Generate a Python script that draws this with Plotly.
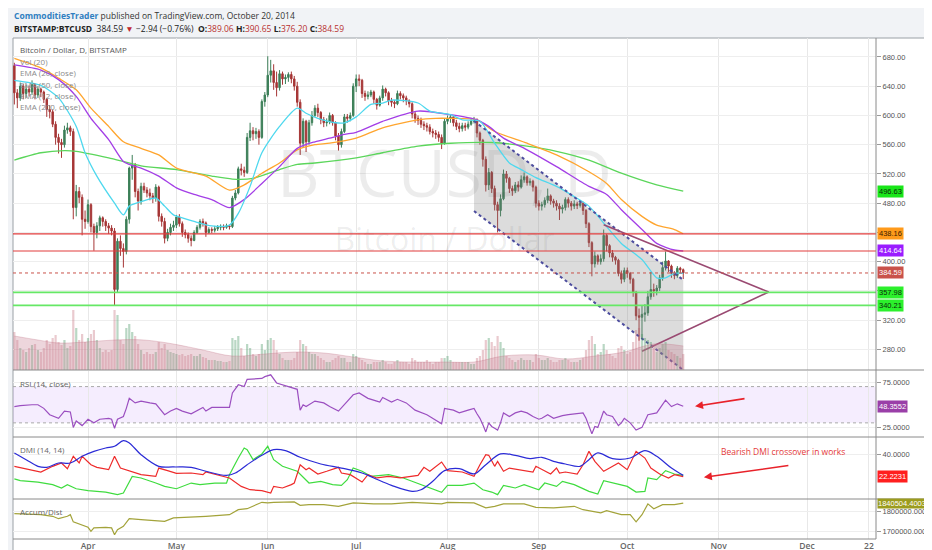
import plotly.graph_objects as go
import pandas as pd

# ---------------- DATA ----------------
first_open = 668.0
close_mar = [631,624,640,630,636,632,642,628,636,632,622,608,605,588,570,563,560,580,583,578,474,496,488,458,455]
high_mar  = [672,636,645,643,642,641,648,644,640,638,634,624,614,608,592,575,568,586,590,586,582,505,502,492,470]
low_mar   = [615,610,620,622,624,626,628,622,624,625,617,598,596,584,560,548,542,556,575,572,458,462,480,436,445]
close_apr = [478,448,440,449,460,455,449,446,442,362,428,418,414,458,528,532,496,483,503,498,494,490,487,502,462,455,432,440,447,450]
high_apr  = [485,480,452,454,463,462,458,453,450,446,432,436,425,462,530,546,535,500,508,508,502,500,494,506,504,466,460,445,452,456]
low_apr   = [452,440,415,432,442,448,442,438,436,340,358,408,392,410,452,512,488,470,478,494,488,484,480,482,455,448,425,428,436,442]
close_may = [461,452,440,437,432,429,440,447,455,453,440,444,443,445,447,448,447,449,448,487,494,527,525,522,570,579,575,578,570,619,628]
high_may  = [464,465,455,444,440,436,443,450,458,459,455,447,447,449,450,451,451,452,451,490,498,530,534,530,576,590,584,583,581,622,632]
low_may   = [446,448,434,432,426,421,428,438,444,448,434,438,439,440,442,443,443,445,444,446,484,492,518,516,520,565,566,568,560,568,612]
close_jun = [655,661,645,638,657,650,652,656,650,640,618,562,592,564,590,600,610,604,594,590,591,600,590,572,560,578,598,596,600,640]
high_jun  = [681,676,670,660,662,660,656,659,660,654,646,622,596,594,594,606,614,616,606,598,596,604,602,592,576,582,602,602,604,644]
low_jun   = [625,645,635,626,634,642,643,646,644,634,612,546,556,550,560,586,598,598,588,584,585,588,586,566,552,556,576,590,592,598]
close_jul = [650,648,630,626,628,632,622,614,624,636,631,620,618,616,630,627,624,620,616,602,596,593,588,586,584,578,576,574,570,562,592]
high_jul  = [656,656,650,634,633,635,634,624,627,641,638,633,624,621,634,633,630,627,622,618,605,600,597,592,590,588,582,580,578,574,596]
low_jul   = [632,640,624,620,622,625,616,608,612,620,626,614,612,610,614,622,618,614,611,596,590,587,583,580,578,574,570,568,564,554,560]
close_aug = [596,598,590,585,582,586,584,588,592,594,576,566,540,505,522,500,478,470,486,520,514,500,497,505,502,512,516,508,510,502,480]
high_aug  = [600,602,600,594,590,590,590,592,596,598,596,578,568,544,528,524,504,482,492,526,524,516,504,509,510,518,522,518,514,512,504]
low_aug   = [588,590,585,580,577,578,579,581,586,589,570,560,530,496,498,494,470,440,462,484,508,494,490,494,496,500,508,504,504,496,474]
close_sep = [476,478,484,490,483,480,476,472,474,485,480,476,479,477,480,470,452,426,397,408,400,404,436,422,412,406,402,384,376,388]
high_sep  = [484,482,488,500,492,486,484,480,478,488,488,483,484,482,484,482,472,454,428,414,410,410,444,438,424,416,408,404,388,392]
low_sep   = [470,470,474,480,478,474,470,457,466,470,474,470,472,472,474,464,446,420,380,392,396,396,400,414,406,400,396,380,370,372]
close_oct = [384,376,358,326,324,328,330,352,362,360,364,378,392,401,394,384,381,391,389.06,384.59]
high_oct  = [392,386,378,360,336,340,342,360,386,370,368,382,400,414,402,396,387,394,393,390.65]
low_oct   = [378,370,352,320,292,296,318,326,348,352,354,360,374,388,386,378,376,378,384,376.20]

vol_mar = [38,30,22,20,18,22,25,26,20,18,22,30,26,32,35,28,25,30,22,24,60,42,30,36,28]
vol_apr = [32,36,40,30,22,18,20,18,20,60,55,30,26,42,46,38,34,26,20,16,18,16,16,18,28,22,26,20,18,17]
vol_may = [16,15,16,14,15,16,14,14,16,13,12,10,10,10,9,9,8,8,9,32,30,34,22,14,26,22,16,14,16,26,20]
vol_jun = [30,32,30,20,16,12,10,10,10,12,18,30,26,24,18,16,16,14,12,10,8,8,10,12,14,12,12,8,8,16]
vol_jul = [14,12,10,8,6,6,8,8,8,10,8,6,6,8,10,8,8,8,6,12,10,8,8,8,10,8,6,8,8,12,12]
vol_aug = [14,10,8,8,8,8,8,8,6,6,12,14,20,30,32,28,24,34,28,22,14,12,10,8,10,12,10,10,10,8,16]
vol_sep = [12,10,10,12,10,8,8,10,10,12,10,8,8,8,10,12,20,30,34,26,16,18,26,20,16,14,12,22,24,20]
vol_oct = [16,18,28,40,42,36,32,30,28,22,18,22,26,28,20,18,16,14,12,16]

vol_ma = [("2014-03-07",34),("2014-03-15",30),("2014-03-22",27),("2014-03-31",28),("2014-04-10",30),
          ("2014-04-20",30),("2014-04-30",26),("2014-05-10",20),("2014-05-20",14),("2014-05-31",16),
          ("2014-06-10",18),("2014-06-20",17),("2014-06-30",13),("2014-07-10",9),("2014-07-20",8),
          ("2014-07-31",8),("2014-08-10",8),("2014-08-20",14),("2014-08-31",15),("2014-09-10",11),
          ("2014-09-20",14),("2014-09-30",18),("2014-10-10",26),("2014-10-20",24)]

ema20 = [("2014-03-07",648),("2014-03-16",641),("2014-03-22",624),("2014-03-28",585),("2014-03-31",549),
         ("2014-04-04",517),("2014-04-10",480),("2014-04-13",464),("2014-04-15",476),("2014-04-19",482),
         ("2014-04-24",487),("2014-04-27",476),("2014-04-30",464),("2014-05-03",460),("2014-05-07",455),
         ("2014-05-13",449),("2014-05-19",450),("2014-05-22",466),("2014-05-26",503),("2014-05-30",549),
         ("2014-06-05",585),("2014-06-11",610),("2014-06-14",603),("2014-06-18",596),("2014-06-24",590),
         ("2014-06-27",590),("2014-07-01",598),("2014-07-06",615),("2014-07-10",617),("2014-07-13",621),
         ("2014-07-22",617),("2014-07-26",606),("2014-08-02",601),("2014-08-06",594),("2014-08-12",592),
         ("2014-08-17",562),("2014-08-22",535),("2014-08-26",526),("2014-08-31",515),("2014-09-07",503),
         ("2014-09-13",489),("2014-09-18",476),("2014-09-24",448),("2014-09-29",425),("2014-10-06",403),
         ("2014-10-11",378),("2014-10-14",378),("2014-10-17",384),("2014-10-20",384)]
ema50 = [("2014-03-07",669),("2014-03-16",662),("2014-03-22",649),("2014-03-28",626),("2014-04-02",596),
         ("2014-04-08",567),("2014-04-13",537),("2014-04-15",533),("2014-04-19",528),("2014-04-25",517),
         ("2014-05-01",501),("2014-05-07",492),("2014-05-13",485),("2014-05-19",474),("2014-05-24",485),
         ("2014-05-30",507),("2014-06-05",530),("2014-06-11",555),("2014-06-17",564),("2014-06-22",569),
         ("2014-06-27",574),("2014-07-01",577),("2014-07-10",592),("2014-07-22",606),("2014-08-02",601),
         ("2014-08-11",594),("2014-08-15",585),("2014-08-20",569),("2014-08-28",553),("2014-09-07",530),
         ("2014-09-18",503),("2014-09-24",492),("2014-09-29",471),("2014-10-06",444),("2014-10-11",425),
         ("2014-10-17",416),("2014-10-20",414.64)]
ema100 = [("2014-03-07",678),("2014-03-16",665),("2014-03-22",651),("2014-03-28",635),("2014-04-02",610),
          ("2014-04-08",585),("2014-04-13",564),("2014-04-19",555),("2014-04-25",546),("2014-05-01",528),
          ("2014-05-11",517),("2014-05-19",498),("2014-05-24",505),("2014-05-30",521),("2014-06-05",535),
          ("2014-06-11",553),("2014-06-17",560),("2014-06-22",562),("2014-07-01",569),("2014-07-10",583),
          ("2014-07-22",594),("2014-07-28",596),("2014-08-02",596),("2014-08-11",594),("2014-08-17",578),
          ("2014-08-28",562),("2014-09-07",546),("2014-09-18",523),("2014-09-24",507),("2014-09-29",485),
          ("2014-10-06",462),("2014-10-11",450),("2014-10-17",444),("2014-10-20",438.16)]
ema200 = [("2014-03-07",539),("2014-03-16",549),("2014-03-24",552),("2014-03-28",551),("2014-04-08",542),
          ("2014-04-19",531),("2014-05-01",526),("2014-05-13",517),("2014-05-20",513),("2014-05-27",514),
          ("2014-06-05",526),("2014-06-11",533),("2014-06-17",535),("2014-07-01",542),("2014-07-10",549),
          ("2014-07-22",558),("2014-08-02",562),("2014-08-16",563),("2014-08-28",558),("2014-09-07",551),
          ("2014-09-18",539),("2014-09-29",521),("2014-10-11",505),("2014-10-20",496.63)]

rsi = [("2014-03-07",48),("2014-03-09",49),("2014-03-13",50),("2014-03-15",50),("2014-03-17",46),("2014-03-19",39),
       ("2014-03-22",35),("2014-03-24",43),("2014-03-26",42),("2014-03-27",25),("2014-03-28",32),("2014-03-30",27),
       ("2014-04-01",34),("2014-04-03",30),("2014-04-05",34),("2014-04-08",35),("2014-04-09",34),("2014-04-10",24),
       ("2014-04-11",34),("2014-04-13",37),("2014-04-14",46),("2014-04-15",57),("2014-04-17",52),("2014-04-19",54),
       ("2014-04-22",52),("2014-04-24",51),("2014-04-27",39),("2014-04-29",43),("2014-05-01",46),("2014-05-03",43),
       ("2014-05-06",40),("2014-05-09",45),("2014-05-10",47),("2014-05-11",43),("2014-05-13",47),("2014-05-19",47),
       ("2014-05-20",63),("2014-05-22",72),("2014-05-24",70),("2014-05-25",78),("2014-05-28",79),("2014-05-30",79),
       ("2014-05-31",81),("2014-06-02",83),("2014-06-04",74),("2014-06-06",72),("2014-06-08",70),("2014-06-11",67),
       ("2014-06-12",44),("2014-06-13",50),("2014-06-14",48),("2014-06-17",54),("2014-06-20",52),("2014-06-22",48),
       ("2014-06-25",43),("2014-06-27",50),("2014-06-30",61),("2014-07-02",63),("2014-07-05",57),("2014-07-08",54),
       ("2014-07-09",53),("2014-07-10",58),("2014-07-13",53),("2014-07-15",56),("2014-07-18",52),("2014-07-21",44),
       ("2014-07-25",39),("2014-07-30",29),("2014-07-31",46),("2014-08-03",44),("2014-08-05",41),("2014-08-08",44),
       ("2014-08-10",46),("2014-08-11",40),("2014-08-12",35),("2014-08-13",28),("2014-08-14",20),("2014-08-15",30),
       ("2014-08-16",26),("2014-08-17",24),("2014-08-18",22),("2014-08-19",30),("2014-08-20",41),("2014-08-22",37),
       ("2014-08-24",41),("2014-08-26",43),("2014-08-28",41),("2014-08-30",37),("2014-09-01",34),("2014-09-02",35),
       ("2014-09-04",39),("2014-09-06",35),("2014-09-09",38),("2014-09-11",39),("2014-09-15",40),("2014-09-16",41),
       ("2014-09-17",35),("2014-09-18",27),("2014-09-19",18),("2014-09-20",26),("2014-09-21",25),("2014-09-23",43),
       ("2014-09-24",39),("2014-09-26",37),("2014-09-28",27),("2014-09-29",30),("2014-09-30",35),("2014-10-02",30),
       ("2014-10-04",22),("2014-10-06",25),("2014-10-08",39),("2014-10-11",41),("2014-10-13",50),("2014-10-14",55),
       ("2014-10-16",48),("2014-10-18",51),("2014-10-20",48.3552)]

adx = [("2014-03-07",41.4),("2014-03-11",36.0),("2014-03-15",30.6),("2014-03-18",29.8),("2014-03-22",33.3),
       ("2014-03-26",33.3),("2014-03-30",38.7),("2014-04-03",42.7),("2014-04-07",45.4),("2014-04-10",46.8),
       ("2014-04-13",51.4),("2014-04-15",49.5),("2014-04-19",40.0),("2014-04-25",30.6),("2014-04-30",30.1),
       ("2014-05-06",29.8),("2014-05-11",26.6),("2014-05-18",23.3),("2014-05-21",25.2),("2014-05-25",31.9),
       ("2014-05-30",39.5),("2014-06-03",44.1),("2014-06-07",43.3),("2014-06-12",37.9),("2014-06-19",32.5),
       ("2014-06-26",29.2),("2014-07-03",25.2),("2014-07-07",21.2),("2014-07-13",15.2),("2014-07-20",10.4),
       ("2014-07-23",11.7),("2014-07-27",18.5),("2014-07-31",27.1),("2014-08-05",28.7),("2014-08-10",24.5),
       ("2014-08-14",31.9),("2014-08-19",40.6),("2014-08-24",39.5),("2014-08-29",36.8),("2014-09-02",37.9),
       ("2014-09-06",34.6),("2014-09-10",32.5),("2014-09-15",30.6),("2014-09-18",36.0),("2014-09-21",41.4),
       ("2014-09-26",36.8),("2014-10-02",37.3),("2014-10-07",43.3),("2014-10-11",38.7),("2014-10-16",29.2),
       ("2014-10-20",23.3)]
di_minus = [("2014-03-07",30.6),("2014-03-12",27.9),("2014-03-16",26.0),("2014-03-20",30.6),("2014-03-23",33.3),
            ("2014-03-25",28.7),("2014-03-27",38.7),("2014-03-29",33.3),("2014-03-30",38.7),("2014-04-02",31.9),
            ("2014-04-04",29.8),("2014-04-08",27.9),("2014-04-10",38.7),("2014-04-12",29.2),("2014-04-16",26.0),
            ("2014-04-19",23.9),("2014-04-24",22.5),("2014-04-25",29.2),("2014-04-28",27.1),("2014-05-01",24.9),
            ("2014-05-06",25.2),("2014-05-10",23.9),("2014-05-11",26.0),("2014-05-15",23.3),("2014-05-19",21.2),
            ("2014-05-23",14.4),("2014-05-26",11.7),("2014-05-30",10.9),("2014-06-02",9.0),("2014-06-03",14.4),
            ("2014-06-06",13.1),("2014-06-09",15.8),("2014-06-10",17.1),("2014-06-12",31.9),("2014-06-14",27.9),
            ("2014-06-15",29.2),("2014-06-18",24.4),("2014-06-21",26.6),("2014-06-25",29.8),("2014-06-26",25.2),
            ("2014-06-29",23.9),("2014-07-03",17.9),("2014-07-05",23.9),("2014-07-08",21.2),("2014-07-12",22.5),
            ("2014-07-16",21.2),("2014-07-22",23.3),("2014-07-24",29.8),("2014-07-26",26.6),("2014-07-30",34.1),
            ("2014-08-01",27.1),("2014-08-06",26.0),("2014-08-10",22.5),("2014-08-12",31.9),("2014-08-14",40.0),
            ("2014-08-15",39.5),("2014-08-17",30.6),("2014-08-18",34.6),("2014-08-20",26.6),("2014-08-22",29.2),
            ("2014-08-27",27.1),("2014-08-30",26.0),("2014-08-31",30.6),("2014-09-02",27.9),("2014-09-05",24.4),
            ("2014-09-07",29.2),("2014-09-08",25.2),("2014-09-10",26.0),("2014-09-14",24.4),("2014-09-16",31.9),
            ("2014-09-18",42.7),("2014-09-20",34.6),("2014-09-23",26.6),("2014-09-25",29.2),("2014-09-28",33.3),
            ("2014-10-01",27.9),("2014-10-04",42.7),("2014-10-07",37.3),("2014-10-09",29.2),("2014-10-12",24.4),
            ("2014-10-15",21.2),("2014-10-17",23.9),("2014-10-20",22.2231)]
di_plus = [("2014-03-07",20.4),("2014-03-09",19.0),("2014-03-15",17.9),("2014-03-20",15.8),("2014-03-23",13.1),
           ("2014-03-25",15.8),("2014-03-28",12.5),("2014-04-01",10.9),("2014-04-04",10.4),("2014-04-07",9.8),
           ("2014-04-11",7.7),("2014-04-13",9.0),("2014-04-16",22.5),("2014-04-19",21.2),("2014-04-24",17.1),
           ("2014-04-27",14.4),("2014-05-01",12.5),("2014-05-06",17.1),("2014-05-09",15.8),("2014-05-14",17.1),
           ("2014-05-18",17.1),("2014-05-19",23.9),("2014-05-22",37.3),("2014-05-24",45.4),("2014-05-25",44.1),
           ("2014-05-27",36.0),("2014-05-30",40.6),("2014-06-01",46.8),("2014-06-03",36.0),("2014-06-06",30.6),
           ("2014-06-11",26.6),("2014-06-15",17.1),("2014-06-19",18.5),("2014-06-23",15.8),("2014-06-26",15.2),
           ("2014-06-28",19.8),("2014-06-30",29.2),("2014-07-03",26.6),("2014-07-06",22.5),("2014-07-12",23.9),
           ("2014-07-17",21.2),("2014-07-24",15.2),("2014-07-30",9.6),("2014-08-01",15.2),("2014-08-06",15.2),
           ("2014-08-10",17.1),("2014-08-13",11.7),("2014-08-16",9.8),("2014-08-18",7.7),("2014-08-20",15.2),
           ("2014-08-24",13.1),("2014-08-27",15.8),("2014-09-01",11.7),("2014-09-03",17.1),("2014-09-07",14.4),
           ("2014-09-09",18.5),("2014-09-13",15.8),("2014-09-18",10.4),("2014-09-21",8.2),("2014-09-23",19.0),
           ("2014-09-26",17.1),("2014-10-01",14.4),("2014-10-04",9.8),("2014-10-07",10.4),("2014-10-08",21.2),
           ("2014-10-11",19.8),("2014-10-14",27.1),("2014-10-17",24.4),("2014-10-20",23.3)]

accum_dist = [("2014-03-07",1788000),("2014-03-16",1783000),("2014-03-20",1775000),("2014-03-22",1763000),
              ("2014-03-25",1775000),("2014-03-26",1783000),("2014-03-27",1747000),("2014-04-01",1720000),
              ("2014-04-02",1700000),("2014-04-03",1717000),("2014-04-07",1720000),("2014-04-09",1717000),
              ("2014-04-10",1683000),("2014-04-11",1708000),("2014-04-13",1725000),("2014-04-15",1763000),
              ("2014-04-19",1758000),("2014-04-23",1753000),("2014-04-27",1750000),("2014-04-30",1767000),
              ("2014-05-06",1770000),("2014-05-11",1775000),("2014-05-19",1783000),("2014-05-22",1808000),
              ("2014-05-25",1813000),("2014-05-27",1825000),("2014-05-30",1845000),("2014-06-01",1842000),
              ("2014-06-03",1845000),("2014-06-10",1847000),("2014-06-12",1830000),("2014-06-15",1833000),
              ("2014-06-20",1833000),("2014-06-25",1825000),("2014-06-30",1842000),("2014-07-07",1837000),
              ("2014-07-13",1837000),("2014-07-20",1845000),("2014-07-24",1842000),("2014-07-30",1837000),
              ("2014-08-01",1845000),("2014-08-10",1842000),("2014-08-14",1817000),("2014-08-17",1825000),
              ("2014-08-20",1837000),("2014-08-27",1837000),("2014-08-31",1820000),("2014-09-06",1817000),
              ("2014-09-13",1825000),("2014-09-16",1808000),("2014-09-22",1792000),("2014-09-24",1803000),
              ("2014-09-29",1783000),("2014-10-02",1783000),("2014-10-04",1747000),("2014-10-06",1783000),
              ("2014-10-08",1837000),("2014-10-10",1813000),("2014-10-13",1833000),("2014-10-17",1833000),
              ("2014-10-20",1840504.4003)]

# drawings (anchor points in data space)
channel_dates = ["2014-08-10", "2014-10-20"]
channel_upper = [592.4, 375.0]
channel_lower = [469.3, 251.9]
triangle_dates = ["2014-09-23", "2014-11-18", "2014-10-06"]
triangle_prices = [450.6, 358.6, 277.5]
level_red = [438.16, 414.64]
level_green = [357.98, 340.21]
last_price = 384.59

price_ticks = [280, 320, 360, 400, 440, 480, 520, 560, 600, 640, 680]
price_ticks_hidden = [360, 440]   # covered by the value boxes in the original
x_tick_dates = ["2014-04-01", "2014-05-01", "2014-06-01", "2014-07-01", "2014-08-01",
                "2014-09-01", "2014-10-01", "2014-11-01", "2014-12-01", "2014-12-22"]
x_tick_text = ["Apr", "May", "Jun", "Jul", "Aug", "Sep", "Oct", "Nov", "Dec", "22"]

# ---------------- assemble ----------------
dates = pd.date_range("2014-03-07", "2014-10-20", freq="D")
closes = close_mar + close_apr + close_may + close_jun + close_jul + close_aug + close_sep + close_oct
highs = high_mar + high_apr + high_may + high_jun + high_jul + high_aug + high_sep + high_oct
lows = low_mar + low_apr + low_may + low_jun + low_jul + low_aug + low_sep + low_oct
vols = vol_mar + vol_apr + vol_may + vol_jun + vol_jul + vol_aug + vol_sep + vol_oct
opens = [first_open] + closes[:-1]
vol_colors = ["rgba(70,150,100,0.38)" if c >= o else "rgba(185,80,95,0.30)" for c, o in zip(closes, opens)]

def unz(pts):
    return [p[0] for p in pts], [p[1] for p in pts]

W, H = 932, 550
ML, MR, MT, MB = 5, 4, 30, 19
PW, PH = W - ML - MR, H - MT - MB

def px(X):
    return (X - ML) / PW

def py(Y):
    return (H - MB - Y) / PH

XR = ["2014-03-06 13:00", "2014-12-24 10:00"]
XDOM = [0, px(868)]
FONT = "Open Sans"
AXFONT = "Liberation Sans"

fig = go.Figure()

# watermark
fig.add_trace(go.Scatter(x=["2014-07-31", "2014-07-31"], y=[511, 425], mode="text",
                         text=["BTCUSD, D", "Bitcoin / Dollar"],
                         textfont=dict(size=[66, 32], color="rgba(0,0,0,0.075)", family=FONT),
                         xaxis="x", yaxis="y", hoverinfo="skip"))
# channel fill
fig.add_trace(go.Scatter(x=[channel_dates[0], channel_dates[1], channel_dates[1], channel_dates[0]],
                         y=[channel_upper[0], channel_upper[1], channel_lower[1], channel_lower[0]],
                         fill="toself", fillcolor="rgba(128,128,128,0.28)", mode="lines",
                         line=dict(width=0), xaxis="x", yaxis="y", hoverinfo="skip"))
# candles
fig.add_trace(go.Candlestick(x=dates, open=opens, high=highs, low=lows, close=closes,
                             increasing=dict(line=dict(color="#3c7f58", width=1), fillcolor="#3c7f58"),
                             decreasing=dict(line=dict(color="#a63636", width=1), fillcolor="#a63636"),
                             xaxis="x", yaxis="y", hoverinfo="skip"))
# EMAs
for pts, col in [(ema200, "#5bd65b"), (ema100, "#ffa52e"), (ema50, "#a33ee6"), (ema20, "#4ed8ee")]:
    xs, ys = unz(pts)
    fig.add_trace(go.Scatter(x=xs, y=ys, mode="lines", line=dict(color=col, width=1.3, shape="spline", smoothing=0.7),
                             xaxis="x", yaxis="y", hoverinfo="skip"))
# channel borders
for ys in (channel_upper, channel_lower):
    fig.add_trace(go.Scatter(x=channel_dates, y=ys, mode="lines",
                             line=dict(color="#4d4d9e", width=2, dash="dot"), xaxis="x", yaxis="y", hoverinfo="skip"))
# triangle
fig.add_trace(go.Scatter(x=triangle_dates, y=triangle_prices, mode="lines",
                         line=dict(color="#9a4a72", width=1.6), xaxis="x", yaxis="y", hoverinfo="skip"))
# volume
fig.add_trace(go.Bar(x=dates, y=vols, marker=dict(color=vol_colors, line=dict(width=0)),
                     xaxis="x", yaxis="y5", hoverinfo="skip"))
vx, vy = unz(vol_ma)
fig.add_trace(go.Scatter(x=vx, y=vy, mode="lines", fill="tozeroy", fillcolor="rgba(200,130,150,0.33)",
                         line=dict(color="rgba(190,110,130,0.5)", width=0.6, shape="spline"),
                         xaxis="x", yaxis="y5", hoverinfo="skip"))
# RSI
rx, ry = unz(rsi)
fig.add_trace(go.Scatter(x=rx, y=ry, mode="lines", line=dict(color="#9b4fc0", width=1.2),
                         xaxis="x2", yaxis="y2", hoverinfo="skip"))
# DMI
for pts, col, shp in [(di_plus, "#3fdc3f", "linear"), (di_minus, "#ee2a2a", "linear"), (adx, "#2b2bd6", "spline")]:
    xs, ys = unz(pts)
    fig.add_trace(go.Scatter(x=xs, y=ys, mode="lines", line=dict(color=col, width=1.2, shape=shp),
                             xaxis="x3", yaxis="y3", hoverinfo="skip"))
# Accum/Dist
ax_, ay_ = unz(accum_dist)
fig.add_trace(go.Scatter(x=ax_, y=ay_, mode="lines", line=dict(color="#a3a33a", width=1.2),
                         xaxis="x4", yaxis="y4", hoverinfo="skip"))

# ---------------- axes ----------------
xcommon = dict(type="date", range=XR, domain=XDOM, showgrid=True, gridcolor="#e8e8e8", gridwidth=1,
               tickvals=x_tick_dates, ticktext=x_tick_text, showline=False, zeroline=False, ticks="",
               fixedrange=True)
ycommon = dict(side="right", showgrid=True, gridcolor="#eeeeee", zeroline=False, showline=False,
               ticks="outside", ticklen=4, tickcolor="#999999",
               tickfont=dict(size=7.5, color="#555555", family=AXFONT), fixedrange=True)

rsi_ticks = [25, 75]
dmi_ticks = [40]
ad_ticks = [1700000, 1800000]

fig.update_layout(
    width=W, height=H, margin=dict(l=ML, r=MR, t=MT, b=MB),
    paper_bgcolor="#f1f3f6", plot_bgcolor="white", showlegend=False, hovermode=False,
    bargap=0.25,
    xaxis=dict(xcommon, anchor="y", showticklabels=False, rangeslider=dict(visible=False)),
    xaxis2=dict(xcommon, anchor="y2", showticklabels=False),
    xaxis3=dict(xcommon, anchor="y3", showticklabels=False),
    xaxis4=dict(xcommon, anchor="y4", showticklabels=True,
                tickfont=dict(size=8.5, color="#666666", family=FONT, weight=600)),
    yaxis=dict(ycommon, anchor="x", domain=[py(362), 1], range=[251.9, 705.9],
               tickvals=price_ticks,
               ticktext=["" if v in price_ticks_hidden else f"{v:.2f}" for v in price_ticks]),
    yaxis5=dict(overlaying="y", anchor="x", range=[0, 332], visible=False, fixedrange=True),
    yaxis2=dict(ycommon, anchor="x2", domain=[py(429), py(363)], range=[14.4, 87.2],
                tickvals=rsi_ticks, ticktext=[f"{v:.4f}" for v in rsi_ticks]),
    yaxis3=dict(ycommon, anchor="x3", domain=[py(491), py(429)], range=[4.2, 54.3],
                tickvals=dmi_ticks, ticktext=[f"{v:.4f}" for v in dmi_ticks]),
    yaxis4=dict(ycommon, anchor="x4", domain=[0, py(491)], range=[1661500, 1861500],
                tickvals=ad_ticks, ticktext=[f"{v:.4f}" for v in ad_ticks]),
)

# ---------------- shapes ----------------
shapes = []
shapes.append(dict(type="rect", xref="paper", yref="paper", x0=px(5), x1=px(928), y0=py(545), y1=1,
                   fillcolor="white", line=dict(color="#9aa0a6", width=1), layer="below"))
shapes.append(dict(type="rect", xref="x2 domain", yref="y2", x0=0, x1=1, y0=30, y1=70,
                   fillcolor="rgba(185,130,245,0.14)", line=dict(width=0), layer="below"))
for v in (30, 70):
    shapes.append(dict(type="line", xref="x2 domain", yref="y2", x0=0, x1=1, y0=v, y1=v,
                       line=dict(color="#aaaaaa", width=1, dash="dot"), layer="below"))
for v in level_red:
    shapes.append(dict(type="line", xref="x domain", yref="y", x0=0, x1=1, y0=v, y1=v,
                       line=dict(color="#e23c3c", width=1.2)))
for v in level_green:
    shapes.append(dict(type="line", xref="x domain", yref="y", x0=0, x1=1, y0=v, y1=v,
                       line=dict(color="#66e866", width=1.8)))
shapes.append(dict(type="line", xref="x domain", yref="y", x0=0, x1=1, y0=last_price, y1=last_price,
                   line=dict(color="#c9524a", width=1, dash="dot")))
# panel frame lines
shapes.append(dict(type="line", xref="paper", yref="paper", x0=px(868), x1=px(868), y0=0, y1=1,
                   line=dict(color="#8a8a8a", width=1)))
for Y in (362, 429, 491):
    shapes.append(dict(type="line", xref="paper", yref="paper", x0=px(5), x1=px(928), y0=py(Y), y1=py(Y),
                       line=dict(color="#8a8a8a", width=1)))
shapes.append(dict(type="line", xref="paper", yref="paper", x0=px(5), x1=px(868), y0=py(531), y1=py(531),
                   line=dict(color="#8a8a8a", width=1)))
fig.update_layout(shapes=shapes)

# ---------------- annotations ----------------
ann = []
ann.append(dict(xref="paper", yref="paper", x=px(4), y=py(7.5), xanchor="left", yanchor="middle", showarrow=False,
                text="<span style='color:#2f7fc1'><b>CommoditiesTrader</b></span>"
                     "<span style='color:#333333'> published on TradingView.com, October 20, 2014</span>",
                font=dict(size=8.5, family=FONT, color="#333333")))
red = "#b8312f"
ann.append(dict(xref="paper", yref="paper", x=px(4), y=py(20.5), xanchor="left", yanchor="middle", showarrow=False,
                text=(f"<b>BITSTAMP:BTCUSD</b>  384.59 <span style='color:#c0282d'>▼</span> −2.94 (−0.76%)  "
                      f"<b>O:</b><span style='color:{red}'>389.06</span> <b>H:</b><span style='color:{red}'>390.65</span> "
                      f"<b>L:</b><span style='color:{red}'>376.20</span> <b>C:</b><span style='color:{red}'>384.59</span>"),
                font=dict(size=8.5, family=FONT, color="#222222")))

legend_items = [("Bitcoin / Dollar, D, BITSTAMP", 41, "#555555"), ("Vol (20)", 53, "#8a8a8a"),
                ("EMA (20, close)", 64.5, "#8a8a8a"), ("EMA (50, close)", 76, "#8a8a8a"),
                ("EMA (12, close)", 87.5, "#8a8a8a"), ("EMA (200, close)", 99, "#8a8a8a"),
                ("RSI (14, close)", 375, "#666666"), ("DMI (14, 14)", 441, "#666666"),
                ("Accum/Dist", 503, "#666666")]
for txt, Y, col in legend_items:
    ann.append(dict(xref="paper", yref="paper", x=px(10), y=py(Y), xanchor="left", yanchor="middle",
                    showarrow=False, text=txt, font=dict(size=8, family=FONT, color=col)))

price_labels = [(496.63, "#19e619", "#0a2a0a"), (438.16, "#ff9a1a", "#3a2000"), (414.64, "#9a1cff", "#ffffff"),
                (384.59, "#c9524a", "#ffffff"), (357.98, "#2cf02c", "#0a2a0a"), (340.21, "#2cf02c", "#0a2a0a")]
for v, bg, fg in price_labels:
    ann.append(dict(xref="paper", yref="y", x=px(869), y=v, xanchor="left", yanchor="middle", showarrow=False,
                    text=f"{v:.2f}", bgcolor=bg, borderpad=1, font=dict(size=7.5, family=AXFONT, color=fg)))
ann.append(dict(xref="paper", yref="y2", x=px(869), y=48.3552, xanchor="left", yanchor="middle", showarrow=False,
                text="48.3552", bgcolor="#9a3fa8", borderpad=1, font=dict(size=7.5, family=AXFONT, color="white")))
ann.append(dict(xref="paper", yref="y3", x=px(869), y=22.2231, xanchor="left", yanchor="middle", showarrow=False,
                text="22.2231", bgcolor="#ff1f1f", borderpad=1, font=dict(size=7.5, family=AXFONT, color="white")))
ann.append(dict(xref="paper", yref="y4", x=px(869), y=1840504.4003, xanchor="left", yanchor="middle",
                showarrow=False, text="1840504.4003", bgcolor="#9c9c1e", borderpad=0,
                font=dict(size=7.5, family=AXFONT, color="white")))

# red arrows and note
ann.append(dict(xref="x2", yref="y2", x="2014-10-24", y=48.2, ax=51, ay=-8, showarrow=True,
                arrowhead=2, arrowsize=1, arrowwidth=1.6, arrowcolor="#e8222a", text=""))
ann.append(dict(xref="x3", yref="y3", x="2014-10-27", y=21.7, ax=86, ay=-12, showarrow=True,
                arrowhead=2, arrowsize=1, arrowwidth=1.6, arrowcolor="#e8222a", text=""))
ann.append(dict(xref="x3", yref="y3", x="2014-11-23", y=42.2, showarrow=False, xanchor="center", yanchor="middle",
                text="Bearish DMI crossover in works", font=dict(size=8.5, family=FONT, color="#e5393a")))
fig.update_layout(annotations=ann)

fig.write_html("out.html")
